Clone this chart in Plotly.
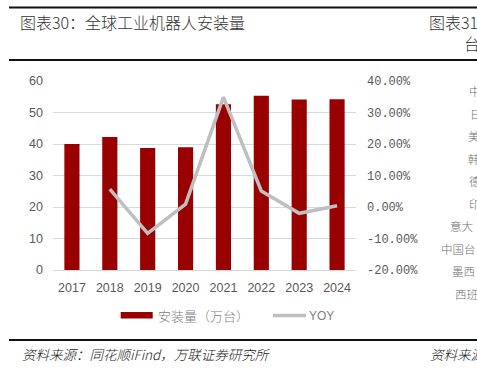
import plotly.graph_objects as go

# ---- data ----
years = ["2017", "2018", "2019", "2020", "2021", "2022", "2023", "2024"]
install_wan = [40.0, 42.2, 38.7, 39.0, 52.6, 55.3, 54.1, 54.2]
yoy = [None, 0.057, -0.084, 0.009, 0.349, 0.051, -0.020, 0.004]
left_ticks = [0, 10, 20, 30, 40, 50, 60]
right_tickvals = [-0.2, -0.1, 0.0, 0.1, 0.2, 0.3, 0.4]
right_ticktext = ["-20.00%", "-10.00%", "0.00%", "10.00%", "20.00%", "30.00%", "40.00%"]
side_labels = ["中", "日", "美", "韩", "德", "印", "意大", "中国台", "墨西", "西班"]

W, H = 477, 374
L, R, T, B = 53, 121, 81, 104
PW = W - L - R
PH = H - T - B


def px(x):
    return (x - L) / PW


def py(y):
    return (H - B - y) / PH


BAR = "#990000"
LINE = "#BFBFBF"
GRID = "#D9D9D9"
TICK = "#595959"
CJK = "Noto Sans CJK SC"

fig = go.Figure()
fig.add_trace(go.Bar(x=years, y=install_wan, name="安装量（万台）",
                     marker=dict(color=BAR, line=dict(width=0)), yaxis="y"))
fig.add_trace(go.Scatter(x=years, y=yoy, name="YOY", mode="lines",
                         line=dict(color=LINE, width=3.5), yaxis="y2",
                         connectgaps=False))

shapes = []
annotations = []

# page rules
for yy in (7.5, 60, 340):
    shapes.append(dict(type="line", xref="paper", yref="paper",
                       x0=px(9), x1=px(477), y0=py(yy), y1=py(yy),
                       line=dict(color="#111111", width=2)))

title_font = dict(family=CJK, size=16, color="#333333", weight=300)
# titles
annotations.append(dict(text="图表30：全球工业机器人安装量", x=px(18), y=py(22),
                        xref="paper", yref="paper", xanchor="left", yanchor="middle",
                        showarrow=False, font=title_font))
annotations.append(dict(text="图表31", x=px(427), y=py(22),
                        xref="paper", yref="paper", xanchor="left", yanchor="middle",
                        showarrow=False, font=title_font))
annotations.append(dict(text="台", x=px(462), y=py(43),
                        xref="paper", yref="paper", xanchor="left", yanchor="middle",
                        showarrow=False, font=title_font))

# clipped neighbour column
side_x = [467, 468, 466, 466, 467, 467, 448, 439, 450, 453]
for i, (t, sx) in enumerate(zip(side_labels, side_x)):
    annotations.append(dict(text=t, x=px(sx), y=py(91 + 22.5 * i),
                            xref="paper", yref="paper", xanchor="left", yanchor="middle",
                            showarrow=False,
                            font=dict(family=CJK, size=11.5, color="#707070", weight=300)))

# legend (manual)
shapes.append(dict(type="rect", xref="paper", yref="paper",
                   x0=px(120.7), x1=px(152.7), y0=py(318.5), y1=py(312),
                   fillcolor=BAR, line=dict(width=0)))
annotations.append(dict(text="安装量（万台）", x=px(156), y=py(315),
                        xref="paper", yref="paper", xanchor="left", yanchor="middle",
                        showarrow=False, font=dict(family=CJK, size=13, color="#808080", weight=300)))
shapes.append(dict(type="line", xref="paper", yref="paper",
                   x0=px(273), x1=px(306), y0=py(315.5), y1=py(315.5),
                   line=dict(color=LINE, width=3.5)))
annotations.append(dict(text="YOY", x=px(307), y=py(315.5),
                        xref="paper", yref="paper", xanchor="left", yanchor="middle",
                        showarrow=False,
                        font=dict(family="Liberation Sans Narrow, Liberation Sans", size=12, color="#808080")))

# sources
src_font = dict(family=CJK, size=13.5, color="#222222", style="italic", weight=300)
annotations.append(dict(text="资料来源：同花顺iFind，万联证券研究所", x=px(20), y=py(354),
                        xref="paper", yref="paper", xanchor="left", yanchor="middle",
                        showarrow=False, font=src_font))
annotations.append(dict(text="资料来源", x=px(428), y=py(354),
                        xref="paper", yref="paper", xanchor="left", yanchor="middle",
                        showarrow=False, font=src_font))

fig.update_layout(
    width=W, height=H,
    margin=dict(l=L, r=R, t=T, b=B, pad=0),
    paper_bgcolor="white", plot_bgcolor="white",
    showlegend=False,
    bargap=0.6,
    xaxis=dict(type="category", showgrid=False, showline=True, linecolor=GRID,
               linewidth=1, ticks="", ticklabelstandoff=6,
               tickfont=dict(family="Liberation Sans", size=12.5, color=TICK)),
    yaxis=dict(range=[0, 60], tickvals=left_ticks, showgrid=True, gridcolor=GRID,
               gridwidth=1, zeroline=False, showline=False, ticks="",
               ticklabelstandoff=9,
               tickfont=dict(family="Liberation Sans", size=12.5, color=TICK)),
    yaxis2=dict(range=[-0.2, 0.4], overlaying="y", side="right",
                tickvals=right_tickvals, ticktext=right_ticktext,
                showgrid=False, zeroline=False, showline=False, ticks="",
                ticklabelstandoff=10,
                tickfont=dict(family="Liberation Mono", size=12, color=TICK)),
    shapes=shapes,
    annotations=annotations,
)

fig.write_html("out.html", config={"displayModeBar": False},
               post_script="document.body.style.margin='0';document.body.style.overflow='hidden';")
